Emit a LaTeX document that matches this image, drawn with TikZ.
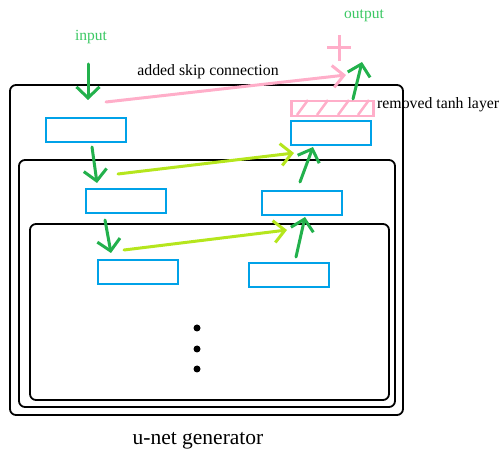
\documentclass[tikz,border=0pt]{standalone}
\usepackage{fontspec}
\setmainfont{Liberation Serif}
\usetikzlibrary{arrows.meta}
\definecolor{pgreen}{RGB}{34,177,76}
\definecolor{tgreen}{RGB}{60,200,100}
\definecolor{plime}{RGB}{181,230,29}
\definecolor{ppink}{RGB}{255,174,201}
\definecolor{pblue}{RGB}{0,162,232}
\begin{document}
\begin{tikzpicture}[x=1pt,y=-1pt,
  blk/.style={draw=pblue,line width=2pt,minimum width=80pt,minimum height=24pt,inner sep=0pt,anchor=north west},
  frame/.style={draw=black,line width=1.8pt,rounded corners=6pt},
  garrow/.style={draw=pgreen,line width=3pt,line cap=round,-{Straight Barb[length=11pt,width=23pt,line width=3pt]}},
  larrow/.style={draw=plime,line width=3pt,line cap=round,-{Straight Barb[length=11pt,width=22pt,line width=3pt]}},
  parrow/.style={draw=ppink,line width=3pt,line cap=round,-{Straight Barb[length=11pt,width=22pt,line width=3pt]}},
  lbl/.style={font=\fontsize{15.8}{18}\selectfont,inner sep=0pt},
  dot/.style={circle,fill=black,inner sep=0pt,minimum size=7pt}
]
\useasboundingbox (0,0) rectangle (501,454);
% frames
\draw[frame] (10,85) rectangle (403,415);
\draw[frame] (19,160) rectangle (395,407);
\draw[frame] (30,224) rectangle (389,400);
% blocks
\node[blk] (b1) at (45,117) {};
\node[blk] (b2) at (290,120) {};
\node[blk] (b3) at (85,188) {};
\node[blk] (b4) at (261,190) {};
\node[blk] (b5) at (97,259) {};
\node[blk] (b6) at (248,262) {};
% removed tanh layer
\node[draw=ppink,line width=2.5pt,minimum width=82pt,minimum height=15pt,inner sep=0pt,anchor=north west] (tanh) at (290,100) {};
\foreach \x in {297,317,338,358}
  \draw[ppink,line width=2.5pt] (\x,115) -- (\x+11,100);
% dots
\node[dot] (d1) at (197,328) {};
\node[dot] (d2) at (197,349) {};
\node[dot] (d3) at (197,369) {};
% labels
\node[lbl,text=tgreen,font=\fontsize{15.5}{18}\selectfont] (in) at (91,37) {input};
\node[lbl,text=tgreen,font=\fontsize{15.5}{18}\selectfont] (out) at (364,16) {output};
\node[lbl] (skip) at (208,72) {added skip connection};
\node[lbl,anchor=west] (rt) at (377,105) {removed tanh layer};
\node[inner sep=0pt,font=\fontsize{21.5}{24}\selectfont] (gen) at (198,441) {u-net generator};
% plus
\coordinate (plus) at (339,48);
\draw[ppink,line width=3pt] ([xshift=-12pt]plus) -- ([xshift=12pt]plus);
\draw[ppink,line width=3pt] ([yshift=-13pt]plus) -- ([yshift=13pt]plus);
% arrow endpoints
\coordinate (i0) at (88,64);   \coordinate (i1) at (88,100);
\coordinate (a0) at (92,147);  \coordinate (a1) at (97,183);
\coordinate (c0) at (105,220); \coordinate (c1) at (111,253);
\coordinate (e0) at (296,257); \coordinate (e1) at (305,217);
\coordinate (f0) at (300,182); \coordinate (f1) at (313,147);
\coordinate (g0) at (353,99);  \coordinate (g1) at (362,62);
\coordinate (s0) at (118,174); \coordinate (s1) at (294,153);
\coordinate (t0) at (124,250); \coordinate (t1) at (287,230);
\coordinate (p0) at (106,102); \coordinate (p1) at (346,75);
% arrows
\draw[parrow] (p0) -- (p1);
\draw[larrow] (s0) -- (s1);
\draw[larrow] (t0) -- (t1);
\draw[garrow] (i0) -- (i1);
\draw[garrow] (a0) -- (a1);
\draw[garrow] (c0) -- (c1);
\draw[garrow] (e0) -- (e1);
\draw[garrow] (f0) -- (f1);
\draw[garrow] (g0) -- (g1);
\end{tikzpicture}
\end{document}
